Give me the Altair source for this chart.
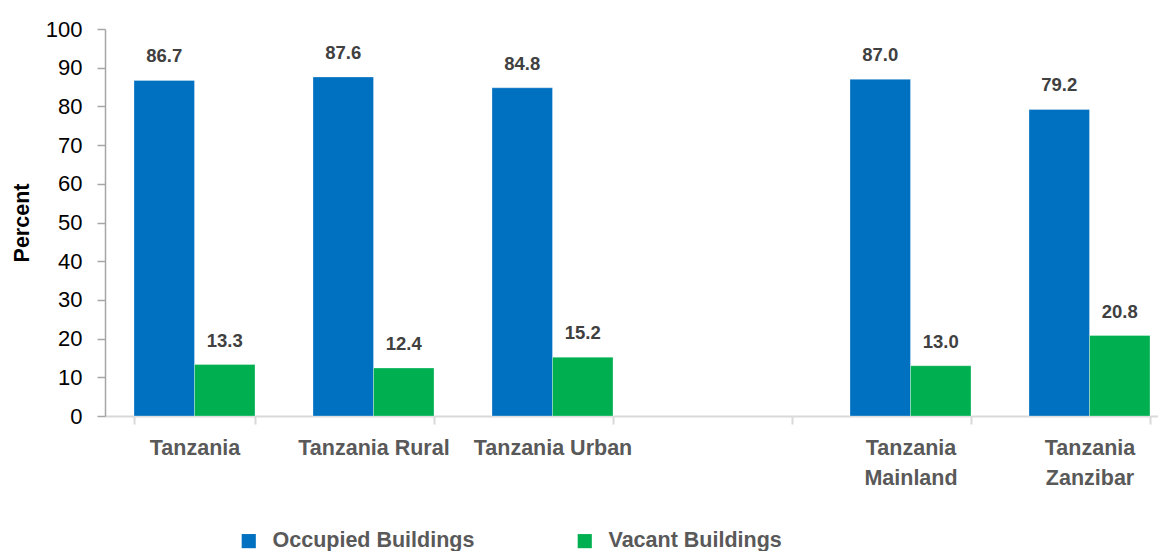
import altair as alt
import pandas as pd

categories = ["Tanzania", "Tanzania Rural", "Tanzania Urban", " ", "Tanzania|Mainland", "Tanzania|Zanzibar"]
data_categories = ["Tanzania", "Tanzania Rural", "Tanzania Urban", "Tanzania|Mainland", "Tanzania|Zanzibar"]
series = ["Occupied Buildings", "Vacant Buildings"]
occupied = [86.7, 87.6, 84.8, 87.0, 79.2]
vacant = [13.3, 12.4, 15.2, 13.0, 20.8]
y_ticks = [0, 10, 20, 30, 40, 50, 60, 70, 80, 90, 100]
colors = ["#0070C0", "#00B050"]

rows = []
for c, o, v in zip(data_categories, occupied, vacant):
    rows.append({"Area": c, "Type": series[0], "Percent": o})
    rows.append({"Area": c, "Type": series[1], "Percent": v})
df = pd.DataFrame(rows)

FONT = "Liberation Sans"

base = alt.Chart(df).encode(
    x=alt.X("Area:N", sort=categories,
            scale=alt.Scale(domain=categories, range=[0, 1074], paddingInner=0.324, paddingOuter=0.162),
            axis=alt.Axis(title=None, labelAngle=0, labelExpr="split(datum.label, '|')",
                          labelFont=FONT, labelFontSize=21.5, labelFontWeight="bold",
                          labelColor="#595959", labelLineHeight=30, labelPadding=13,
                          labelBaseline="top", labelOverlap=False,
                          domainColor="#D9D9D9", domainWidth=2, tickColor="#D9D9D9", tickWidth=2,
                          tickSize=8, tickBand="extent")),
    xOffset=alt.XOffset("Type:N", sort=series, scale=alt.Scale(domain=series, paddingInner=0, paddingOuter=0)),
    y=alt.Y("Percent:Q", scale=alt.Scale(domain=[0, 100], nice=False),
            axis=alt.Axis(values=y_ticks, grid=False, title="Percent",
                          labelFont=FONT, labelFontSize=22, labelColor="#000000",
                          labelOverlap=False, labelSeparation=0,
                          labelPadding=15, tickSize=8, tickColor="#A6A6A6", tickWidth=1.5,
                          domainColor="#A6A6A6", domainWidth=1.5,
                          titleFont=FONT, titleFontSize=21.5, titleFontWeight="bold",
                          titleColor="#000000", titleAngle=-90, titleX=-83, titleY=193.5,
                          titleAlign="center", titleBaseline="middle")),
)

bars = base.mark_bar(stroke="#ffffff", strokeWidth=0.5, strokeOpacity=0.6).encode(
    color=alt.Color("Type:N", sort=series, scale=alt.Scale(domain=series, range=colors),
                    legend=alt.Legend(title=None, orient="none", direction="horizontal",
                                      legendX=133, legendY=501, symbolType="square",
                                      symbolSize=200, symbolStrokeWidth=0, symbolOffset=0,
                                      labelFont=FONT, labelFontSize=21.5, labelFontWeight="bold",
                                      labelColor="#595959", labelOffset=13, columnPadding=99,
                                      labelLimit=400)),
)

labels = base.mark_text(font=FONT, fontSize=18.5, fontWeight="bold", color="#404040",
                        baseline="alphabetic", dy=-18).encode(
    text=alt.Text("Percent:Q", format=".1f"),
)

chart = (bars + labels).properties(
    width=1053, height=387,
    autosize=alt.AutoSizeParams(type="none"),
    padding={"left": 97, "top": 21, "right": 0, "bottom": 135},
).configure_view(stroke=None)

chart.save("out.html", embed_options={"renderer": "svg", "actions": False})
